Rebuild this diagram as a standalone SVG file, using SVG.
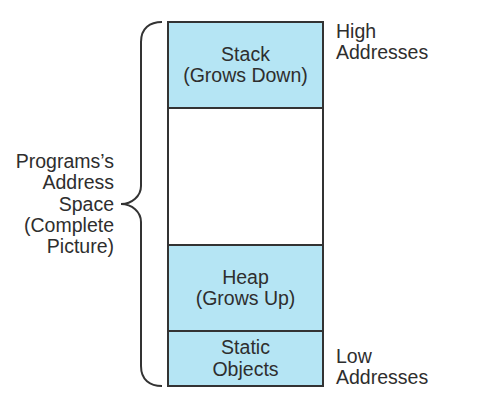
<svg xmlns="http://www.w3.org/2000/svg" width="486" height="410" viewBox="0 0 486 410">
<style>
  .seg { fill: #b5e5f4; stroke: #333; stroke-width: 2; }
  .empty { fill: #ffffff; stroke: #333; stroke-width: 2; }
  .t { font-family: "Liberation Sans", Arial, sans-serif; font-size: 19.5px; fill: #2e2e2e; }
  .c { text-anchor: middle; }
  .r { text-anchor: end; }
  .brace { fill: none; stroke: #333; stroke-width: 2; }
</style>
<rect width="486" height="410" fill="#ffffff"/>
<g id="stack">
  <rect class="seg" x="168" y="22" width="155" height="86"/>
  <text class="t c" x="245.5" y="61">Stack</text>
  <text class="t c" x="245.5" y="82">(Grows Down)</text>
</g>
<g id="free">
  <rect class="empty" x="168" y="108" width="155" height="137"/>
</g>
<g id="heap">
  <rect class="seg" x="168" y="245" width="155" height="86"/>
  <text class="t c" x="245.5" y="284">Heap</text>
  <text class="t c" x="245.5" y="305">(Grows Up)</text>
</g>
<g id="static">
  <rect class="seg" x="168" y="331" width="155" height="55"/>
  <text class="t c" x="245.5" y="354">Static</text>
  <text class="t c" x="245.5" y="376">Objects</text>
</g>
<g id="high">
  <text class="t" x="336" y="38">High</text>
  <text class="t" x="336" y="59">Addresses</text>
</g>
<g id="low">
  <text class="t" x="336" y="363">Low</text>
  <text class="t" x="336" y="384">Addresses</text>
</g>
<g id="program-space">
  <text class="t r" x="114" y="168">Programs’s</text>
  <text class="t r" x="114" y="189">Address</text>
  <text class="t r" x="114" y="211">Space</text>
  <text class="t r" x="114" y="232">(Complete</text>
  <text class="t r" x="114" y="253">Picture)</text>
</g>
<g id="connectors">
  <path class="brace" d="M162,22 C150,22 141,28 141,42 L141,186 C141,196 132,204 121,204 C132,204 141,212 141,222 L141,366 C141,380 150,386 162,386"/>
</g>
</svg>
